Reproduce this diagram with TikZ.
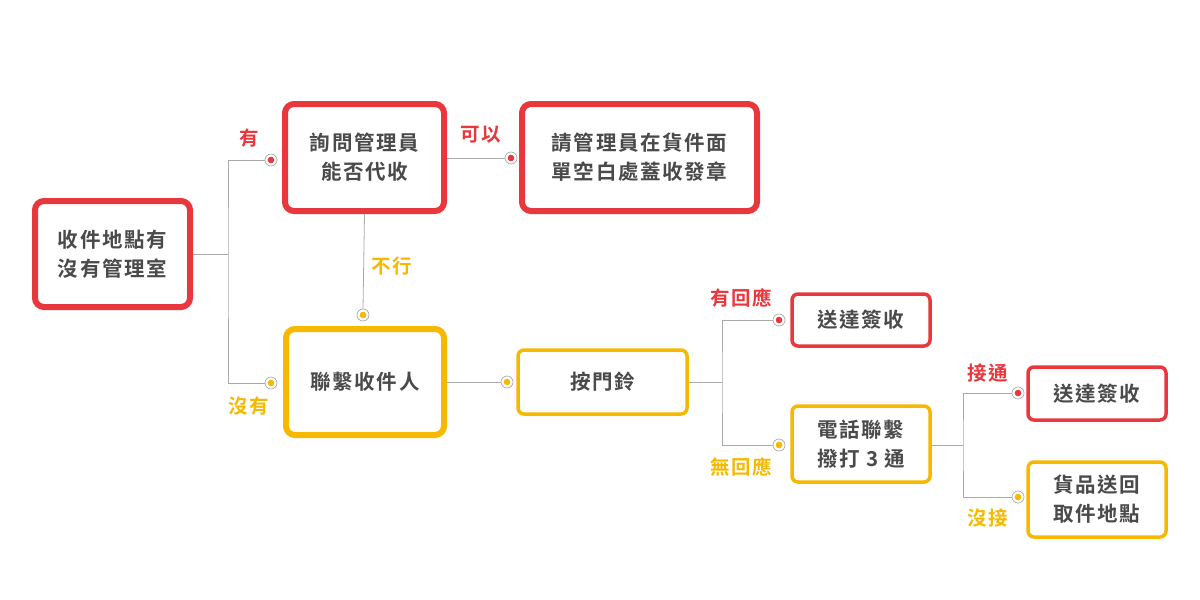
\documentclass[tikz,border=0pt]{standalone}
\usepackage{fontspec}
\setmainfont{Noto Sans CJK TC}[BoldFont={* Bold},LetterSpace=8]
\definecolor{rd}{HTML}{E8383D}
\definecolor{yl}{HTML}{F6B900}
\definecolor{tx}{HTML}{4A4A4A}
\definecolor{ln}{HTML}{AAAAAA}
\begin{document}
\begin{tikzpicture}[x=1pt,y=-1pt,
 box/.style={draw,fill=white,rounded corners=9pt,align=center,text=tx,font=\fontsize{20.5}{29}\selectfont\bfseries,inner sep=0pt},
 thick box/.style={box,line width=6pt},
 thin box/.style={box,line width=3.5pt,rounded corners=6pt},
 lab/.style={font=\fontsize{19.5}{22}\selectfont\bfseries},
 conn/.style={draw=ln,line width=0.8pt},
 mk/.style={circle,draw=ln,fill=white,minimum size=12pt,inner sep=0pt,line width=0.7pt}]
\useasboundingbox (0,0) rectangle (1200,600);
\node[thick box,draw=rd,minimum width=155pt,minimum height=106pt] (A) at (112.5,254) {收件地點有\\沒有管理室};
\node[thick box,draw=rd,minimum width=159pt,minimum height=107pt] (B) at (364.5,157.5) {詢問管理員\\能否代收};
\node[thick box,draw=rd,minimum width=235pt,minimum height=107pt] (C) at (639.5,157.5) {請管理員在貨件面\\單空白處蓋收發章};
\node[thick box,draw=yl,minimum width=158pt,minimum height=106pt] (D) at (365,382) {聯繫收件人};
\node[thin box,draw=yl,minimum width=169pt,minimum height=64pt] (E) at (602.5,382) {按門鈴};
\node[thin box,draw=rd,minimum width=138pt,minimum height=52pt] (F) at (861,320) {送達簽收};
\node[thin box,draw=yl,minimum width=138pt,minimum height=76pt] (G) at (861,444) {電話聯繫\\撥打 3 通};
\node[thin box,draw=rd,minimum width=138pt,minimum height=53pt] (H) at (1097,393.5) {送達簽收};
\node[thin box,draw=yl,minimum width=138pt,minimum height=75pt] (I) at (1097,499.5) {貨品送回\\取件地點};
\coordinate (j1) at (228,254);
\coordinate (j2) at (722,382);
\coordinate (j3) at (963,445);
\node[mk] (mB) at (271,160) {}; \fill[rd] (mB) circle (3.3pt);
\node[mk] (mD) at (271,383) {}; \fill[yl] (mD) circle (3.3pt);
\node[mk] (mC) at (511,158) {}; \fill[rd] (mC) circle (3.3pt);
\node[mk] (mD2) at (363,315) {}; \fill[yl] (mD2) circle (3.3pt);
\node[mk] (mE) at (507,382) {}; \fill[yl] (mE) circle (3.3pt);
\node[mk] (mF) at (779,320) {}; \fill[rd] (mF) circle (3.3pt);
\node[mk] (mG) at (779,445) {}; \fill[yl] (mG) circle (3.3pt);
\node[mk] (mH) at (1018,393) {}; \fill[rd] (mH) circle (3.3pt);
\node[mk] (mI) at (1018,497) {}; \fill[yl] (mI) circle (3.3pt);
\path[conn] (A.east) -- (j1);
\path[conn] (mB.west) -| (j1) |- (mD.west);
\path[conn] (B.east|-mC) -- (mC.west);
\path[conn] (B.south) -- (mD2.north);
\path[conn] (D.east) -- (mE.west);
\path[conn] (E.east) -- (j2);
\path[conn] (mF.west) -| (j2) |- (mG.west);
\path[conn] (G.east|-j3) -- (j3);
\path[conn] (mH.west) -| (j3) |- (mI.west);
\node[lab,text=rd] (l1) at (249,138) {有};
\node[lab,text=yl] (l2) at (249,406) {沒有};
\node[lab,text=rd] (l3) at (481,135) {可以};
\node[lab,text=yl] (l4) at (392,266) {不行};
\node[lab,text=rd] (l5) at (741,298) {有回應};
\node[lab,text=yl] (l6) at (741,467) {無回應};
\node[lab,text=rd] (l7) at (988,373) {接通};
\node[lab,text=yl] (l8) at (988,518) {沒接};
\end{tikzpicture}
\end{document}
